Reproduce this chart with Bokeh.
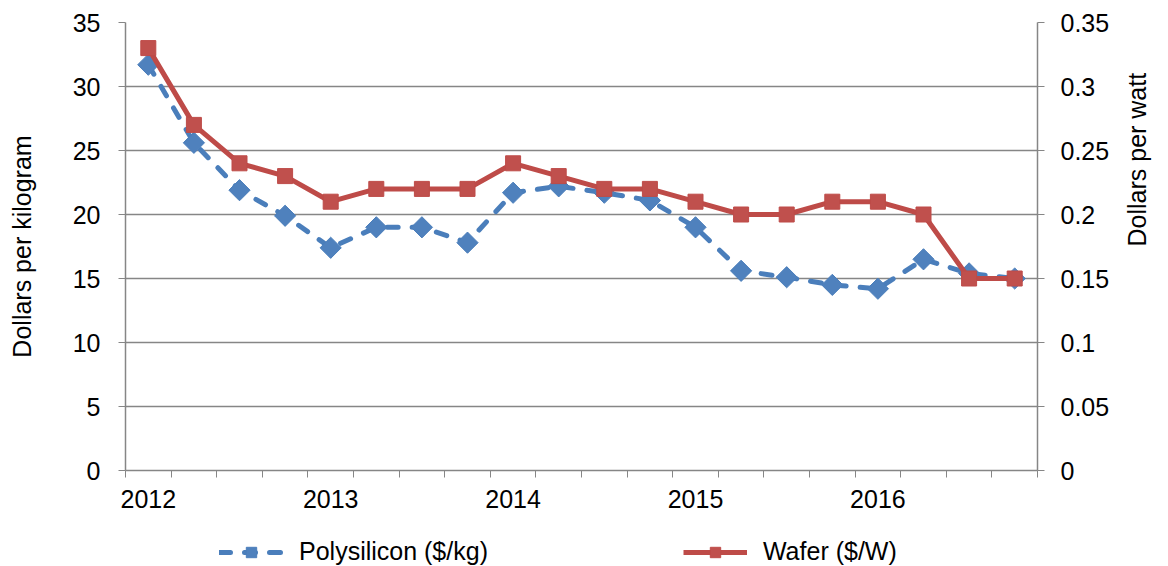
import math
from bokeh.plotting import figure
from bokeh.layouts import column
from bokeh.models import Range1d, LinearAxis, FixedTicker, Legend, LegendItem
from bokeh.embed import file_html
from bokeh.resources import INLINE

# ---- data ----
quarters = ["2012 Q1", "2012 Q2", "2012 Q3", "2012 Q4",
            "2013 Q1", "2013 Q2", "2013 Q3", "2013 Q4",
            "2014 Q1", "2014 Q2", "2014 Q3", "2014 Q4",
            "2015 Q1", "2015 Q2", "2015 Q3", "2015 Q4",
            "2016 Q1", "2016 Q2", "2016 Q3", "2016 Q4"]
year_labels = ["2012", "2013", "2014", "2015", "2016"]
polysilicon = [31.7, 25.6, 21.9, 19.9, 17.4, 19.0, 19.0, 17.8,
               21.7, 22.2, 21.7, 21.1, 19.0, 15.6, 15.1, 14.5,
               14.2, 16.5, 15.4, 15.0]
wafer = [0.33, 0.27, 0.24, 0.23, 0.21, 0.22, 0.22, 0.22,
         0.24, 0.23, 0.22, 0.22, 0.21, 0.20, 0.20, 0.21,
         0.21, 0.20, 0.15, 0.15]
series_names = ["Polysilicon ($/kg)", "Wafer ($/W)"]
left_ticks = [0, 5, 10, 15, 20, 25, 30, 35]
right_ticks = [0, 0.05, 0.1, 0.15, 0.2, 0.25, 0.3, 0.35]
right_tick_labels = ["0", "0.05", "0.1", "0.15", "0.2", "0.25", "0.3", "0.35"]

BLUE = "#4A7EBB"
BLUE_FILL = "#4F81BD"
RED = "#BE4B48"
RED_FILL = "#C0504D"
GRAY = "#868686"
FONT = "Liberation Sans"
FS = "25px"

x = list(range(len(quarters)))

W = 1168
H_MAIN = 520
H_LEG = 46
p = figure(width=W, height=H_MAIN, output_backend="svg", toolbar_location=None,
           x_range=Range1d(-0.5, len(quarters) - 0.5), y_range=Range1d(0, 35),
           min_border_left=125, min_border_right=W - 1040, min_border_top=22,
           min_border_bottom=H_MAIN - 470)
p.extra_y_ranges = {"w": Range1d(0, 0.35)}
p.outline_line_color = None
p.background_fill_color = "white"

# x axis: year labels at Q1 positions, tick marks between quarters
xa = p.xaxis[0]
xa.ticker = FixedTicker(ticks=[x[i] for i in range(0, len(quarters), 4)],
                        minor_ticks=[i - 0.5 for i in range(len(quarters) + 1)])
xa.major_label_overrides = {x[i * 4]: year_labels[i] for i in range(len(year_labels))}
xa.major_tick_out = 0
xa.major_tick_in = 0
xa.minor_tick_out = 7
xa.minor_tick_in = 0
xa.minor_tick_line_color = GRAY
xa.axis_line_color = GRAY
xa.axis_line_width = 1.5
xa.major_label_standoff = 12
xa.major_label_text_font = FONT
xa.major_label_text_font_size = FS
xa.major_label_text_color = "black"

# left axis
ya = p.yaxis[0]
ya.ticker = FixedTicker(ticks=left_ticks, minor_ticks=[])
ya.axis_label = "Dollars per kilogram"
ya.axis_label_text_font = FONT
ya.axis_label_text_font_size = FS
ya.axis_label_text_font_style = "normal"
ya.axis_label_text_color = "black"
ya.axis_label_standoff = 34
ya.major_tick_out = 7
ya.major_tick_in = 0
ya.major_tick_line_color = GRAY
ya.axis_line_color = GRAY
ya.axis_line_width = 1.5
ya.major_label_standoff = 18
ya.major_label_text_font = FONT
ya.major_label_text_font_size = FS
ya.major_label_text_color = "black"

# right axis
ra = LinearAxis(y_range_name="w",
                ticker=FixedTicker(ticks=right_ticks, minor_ticks=[]))
ra.major_label_overrides = {t: s for t, s in zip(right_ticks, right_tick_labels)}
ra.axis_label = "Dollars per watt"
ra.axis_label_orientation = math.pi / 2
ra.axis_label_text_font = FONT
ra.axis_label_text_font_size = FS
ra.axis_label_text_font_style = "normal"
ra.axis_label_text_color = "black"
ra.axis_label_standoff = 25
ra.major_tick_out = 7
ra.major_tick_in = 0
ra.major_tick_line_color = GRAY
ra.axis_line_color = GRAY
ra.axis_line_width = 1.5
ra.major_label_standoff = 16
ra.major_label_text_font = FONT
ra.major_label_text_font_size = FS
ra.major_label_text_color = "black"
p.add_layout(ra, "right")

# grid
p.xgrid.visible = False
p.ygrid.ticker = FixedTicker(ticks=left_ticks)
p.ygrid.grid_line_color = GRAY
p.ygrid.grid_line_width = 1.5

# series
line_styles = [dict(line_color=BLUE, line_width=5, line_dash="11 14", line_cap="round"),
               dict(line_color=RED, line_width=5)]
marker_styles = [dict(marker="square", angle=math.pi / 4, size=15,
                      fill_color=BLUE_FILL, line_color=BLUE),
                 dict(marker="square", size=15, fill_color=RED_FILL, line_color=RED)]

p.line(x, polysilicon, **line_styles[0])
p.scatter(x, polysilicon, **marker_styles[0])
p.line(x, wafer, y_range_name="w", **line_styles[1])
p.scatter(x, wafer, y_range_name="w", **marker_styles[1])

# legend strip below the chart: same series and styles, plotted outside
# this strip's visible range so only the legend entries show
lf = figure(width=W, height=H_LEG, output_backend="svg", toolbar_location=None,
            x_axis_location=None, y_axis_location=None,
            x_range=Range1d(-0.5, len(quarters) - 0.5), y_range=Range1d(100, 101),
            min_border_left=0, min_border_right=0, min_border_top=0,
            min_border_bottom=0)
lf.outline_line_color = None
lf.xgrid.visible = False
lf.ygrid.visible = False
items = []
for name, vals, ls, ms in zip(series_names, [polysilicon, wafer],
                              line_styles, marker_styles):
    lr = lf.line(x, vals, **ls)
    mr = lf.scatter(x, vals, **ms)
    items.append(LegendItem(label=name, renderers=[lr, mr]))

legend = Legend(items=items, orientation="horizontal", location=(94, 0),
                glyph_width=64, glyph_height=26, label_standoff=16, spacing=195,
                padding=0, margin=0, border_line_color=None,
                background_fill_alpha=0,
                label_text_font=FONT, label_text_font_size=FS,
                label_text_color="black")
lf.add_layout(legend)

layout = column(p, lf, spacing=0)
open("out.html", "w").write(file_html(layout, INLINE))
